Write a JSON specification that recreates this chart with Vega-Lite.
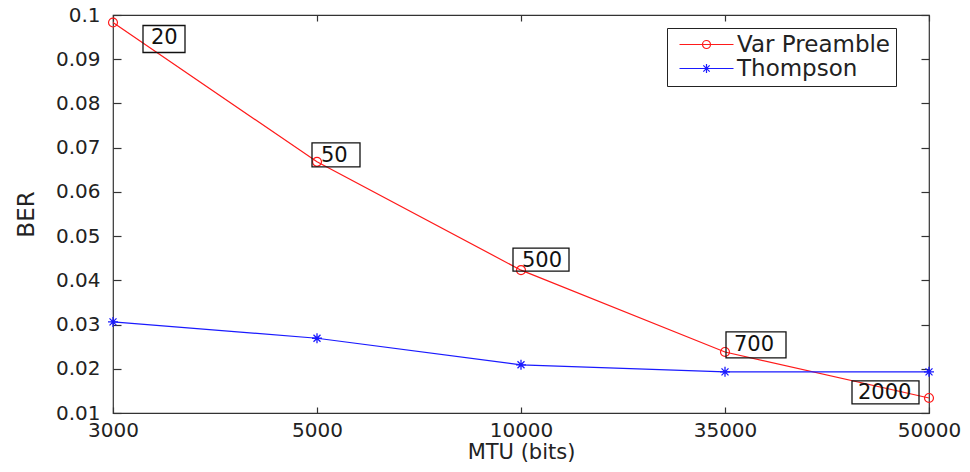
{
  "$schema": "https://vega.github.io/schema/vega-lite/v6.json",
  "width": 816,
  "height": 398,
  "autosize": {"type": "none"},
  "padding": {"left": 113, "top": 15, "right": 41, "bottom": 59},
  "background": "white",
  "config": {"view": {"stroke": "#333333", "strokeWidth": 1.2}, "font": "DejaVu Sans"},
  "data": {
    "values": [
      {"MTU": "3000", "series": "Var Preamble", "BER": 0.0983, "label": "20"},
      {"MTU": "5000", "series": "Var Preamble", "BER": 0.0668, "label": "50"},
      {"MTU": "10000", "series": "Var Preamble", "BER": 0.0423, "label": "500"},
      {"MTU": "35000", "series": "Var Preamble", "BER": 0.0238, "label": "700"},
      {"MTU": "50000", "series": "Var Preamble", "BER": 0.0134, "label": "2000"},
      {"MTU": "3000", "series": "Thompson", "BER": 0.0306},
      {"MTU": "5000", "series": "Thompson", "BER": 0.0269},
      {"MTU": "10000", "series": "Thompson", "BER": 0.0209},
      {"MTU": "35000", "series": "Thompson", "BER": 0.0193},
      {"MTU": "50000", "series": "Thompson", "BER": 0.0193}
    ]
  },
  "layer": [
    {
      "mark": {"type": "line", "strokeWidth": 1.2},
      "encoding": {
        "x": {
          "field": "MTU", "type": "ordinal",
          "sort": ["3000", "5000", "10000", "35000", "50000"],
          "scale": {"type": "point", "padding": 0},
          "axis": {
            "orient": "bottom", "title": "MTU (bits)", "labelAngle": 0, "domain": false,
            "tickSize": -6, "tickColor": "#333333", "tickWidth": 1.2,
            "labelFont": "DejaVu Sans", "labelFontSize": 20, "labelColor": "#222222", "labelPadding": 13,
            "titleFont": "DejaVu Sans", "titleFontSize": 21, "titleFontWeight": "normal", "titleColor": "#222222", "titlePadding": 1,
            "grid": false
          }
        },
        "y": {
          "field": "BER", "type": "quantitative",
          "scale": {"domain": [0.01, 0.1], "nice": false, "zero": false},
          "axis": {
            "orient": "left", "title": "BER", "domain": false,
            "values": [0.01, 0.02, 0.03, 0.04, 0.05, 0.06, 0.07, 0.08, 0.09, 0.1],
            "format": ".2~f",
            "tickSize": -8, "tickColor": "#333333", "tickWidth": 1.2,
            "labelFont": "DejaVu Sans", "labelFontSize": 20, "labelColor": "#222222", "labelPadding": 21,
            "titleFont": "DejaVu Sans", "titleFontSize": 23, "titleFontWeight": "normal", "titleColor": "#222222", "titlePadding": 17,
            "grid": false
          }
        },
        "color": {
          "field": "series", "type": "nominal",
          "scale": {"domain": ["Var Preamble", "Thompson"], "range": ["#ff1a1a", "#1a1aff"]}
        }
      }
    },
    {
      "transform": [{"filter": "datum.series == 'Var Preamble'"}],
      "mark": {"type": "point", "shape": "circle", "filled": false, "opacity": 1, "strokeWidth": 1.2, "size": 80},
      "encoding": {
        "x": {
          "field": "MTU", "type": "ordinal",
          "sort": ["3000", "5000", "10000", "35000", "50000"],
          "scale": {"type": "point", "padding": 0},
          "axis": {"orient": "top", "labels": false, "title": null, "domain": false, "tickSize": -6, "tickColor": "#333333", "tickWidth": 1.2, "grid": false}
        },
        "y": {
          "field": "BER", "type": "quantitative",
          "scale": {"domain": [0.01, 0.1], "nice": false, "zero": false},
          "axis": {"orient": "right", "labels": false, "title": null, "domain": false,
            "values": [0.01, 0.02, 0.03, 0.04, 0.05, 0.06, 0.07, 0.08, 0.09, 0.1],
            "tickSize": -8, "tickColor": "#333333", "tickWidth": 1.2, "grid": false}
        },
        "color": {"field": "series", "type": "nominal"}
      }
    },
    {
      "transform": [{"filter": "datum.series == 'Thompson'"}],
      "mark": {"type": "point", "shape": "M-1,0H1M0,-1V1M-0.7,-0.7L0.7,0.7M-0.7,0.7L0.7,-0.7", "filled": false, "opacity": 1, "strokeWidth": 1.3, "size": 100},
      "encoding": {
        "x": {"field": "MTU", "type": "ordinal", "sort": ["3000", "5000", "10000", "35000", "50000"], "scale": {"type": "point", "padding": 0}, "axis": null},
        "y": {"field": "BER", "type": "quantitative", "scale": {"domain": [0.01, 0.1], "nice": false, "zero": false}, "axis": null},
        "color": {"field": "series", "type": "nominal"}
      }
    },
    {
      "mark": {"type": "point", "filled": false, "opacity": 0, "size": 4},
      "encoding": {
        "x": {"field": "MTU", "type": "ordinal", "sort": ["3000", "5000", "10000", "35000", "50000"], "scale": {"type": "point", "padding": 0}, "axis": null},
        "y": {"field": "BER", "type": "quantitative", "scale": {"domain": [0.01, 0.1], "nice": false, "zero": false}, "axis": null},
        "color": {"field": "series", "type": "nominal"},
        "shape": {
          "field": "series", "type": "nominal",
          "scale": {"domain": ["Var Preamble", "Thompson"], "range": ["M-4,0H50M19,0a4,4 0 1,0 8,0a4,4 0 1,0 -8,0", "M-4,0H50M18.5,0H27.5M23,-4.5V4.5M19.8,-3.2L26.2,3.2M19.8,3.2L26.2,-3.2"]},
          "legend": {
            "title": null, "orient": "none", "legendX": 554, "legendY": 13, "direction": "vertical",
            "padding": 5, "strokeColor": "#222222", "fillColor": "white",
            "symbolSize": 4, "symbolStrokeWidth": 1.2, "symbolFillColor": "transparent", "symbolOpacity": 1,
            "labelOffset": 42, "labelFontSize": 23, "labelFont": "DejaVu Sans", "labelColor": "#222222",
            "rowPadding": -3, "labelLimit": 400
          }
        }
      }
    },
    {
      "transform": [{"filter": "datum.label == '20'"}],
      "encoding": {
        "x": {"field": "MTU", "type": "ordinal", "sort": ["3000", "5000", "10000", "35000", "50000"], "scale": {"type": "point", "padding": 0}, "axis": null},
        "y": {"field": "BER", "type": "quantitative", "scale": {"domain": [0.01, 0.1], "nice": false, "zero": false}, "axis": null}
      },
      "layer": [
        {"mark": {"type": "point", "shape": "M30,3H72V30H30Z", "size": 4, "filled": false, "opacity": 1, "stroke": "#111111", "strokeWidth": 1.3}},
        {"mark": {"type": "text", "align": "left", "baseline": "alphabetic", "dx": 38, "dy": 21, "fontSize": 21, "font": "DejaVu Sans", "color": "#111111"}, "encoding": {"text": {"field": "label"}}}
      ]
    },
    {
      "transform": [{"filter": "datum.label == '50'"}],
      "encoding": {
        "x": {"field": "MTU", "type": "ordinal", "sort": ["3000", "5000", "10000", "35000", "50000"], "scale": {"type": "point", "padding": 0}, "axis": null},
        "y": {"field": "BER", "type": "quantitative", "scale": {"domain": [0.01, 0.1], "nice": false, "zero": false}, "axis": null}
      },
      "layer": [
        {"mark": {"type": "point", "shape": "M-5,-19H43V5H-5Z", "size": 4, "filled": false, "opacity": 1, "stroke": "#111111", "strokeWidth": 1.3}},
        {"mark": {"type": "text", "align": "left", "baseline": "alphabetic", "dx": 4, "dy": 0, "fontSize": 21, "font": "DejaVu Sans", "color": "#111111"}, "encoding": {"text": {"field": "label"}}}
      ]
    },
    {
      "transform": [{"filter": "datum.label == '500'"}],
      "encoding": {
        "x": {"field": "MTU", "type": "ordinal", "sort": ["3000", "5000", "10000", "35000", "50000"], "scale": {"type": "point", "padding": 0}, "axis": null},
        "y": {"field": "BER", "type": "quantitative", "scale": {"domain": [0.01, 0.1], "nice": false, "zero": false}, "axis": null}
      },
      "layer": [
        {"mark": {"type": "point", "shape": "M-8,-22H48V1H-8Z", "size": 4, "filled": false, "opacity": 1, "stroke": "#111111", "strokeWidth": 1.3}},
        {"mark": {"type": "text", "align": "left", "baseline": "alphabetic", "dx": 1, "dy": -3, "fontSize": 21, "font": "DejaVu Sans", "color": "#111111"}, "encoding": {"text": {"field": "label"}}}
      ]
    },
    {
      "transform": [{"filter": "datum.label == '700'"}],
      "encoding": {
        "x": {"field": "MTU", "type": "ordinal", "sort": ["3000", "5000", "10000", "35000", "50000"], "scale": {"type": "point", "padding": 0}, "axis": null},
        "y": {"field": "BER", "type": "quantitative", "scale": {"domain": [0.01, 0.1], "nice": false, "zero": false}, "axis": null}
      },
      "layer": [
        {"mark": {"type": "point", "shape": "M1,-20H61V6H1Z", "size": 4, "filled": false, "opacity": 1, "stroke": "#111111", "strokeWidth": 1.3}},
        {"mark": {"type": "text", "align": "left", "baseline": "alphabetic", "dx": 9, "dy": -1, "fontSize": 21, "font": "DejaVu Sans", "color": "#111111"}, "encoding": {"text": {"field": "label"}}}
      ]
    },
    {
      "transform": [{"filter": "datum.label == '2000'"}],
      "encoding": {
        "x": {"field": "MTU", "type": "ordinal", "sort": ["3000", "5000", "10000", "35000", "50000"], "scale": {"type": "point", "padding": 0}, "axis": null},
        "y": {"field": "BER", "type": "quantitative", "scale": {"domain": [0.01, 0.1], "nice": false, "zero": false}, "axis": null}
      },
      "layer": [
        {"mark": {"type": "point", "shape": "M-77,-17H-10V6H-77Z", "size": 4, "filled": false, "opacity": 1, "stroke": "#111111", "strokeWidth": 1.3}},
        {"mark": {"type": "text", "align": "left", "baseline": "alphabetic", "dx": -71, "dy": 1, "fontSize": 21, "font": "DejaVu Sans", "color": "#111111"}, "encoding": {"text": {"field": "label"}}}
      ]
    }
  ],
  "resolve": {"axis": {"x": "independent", "y": "independent"}}
}
